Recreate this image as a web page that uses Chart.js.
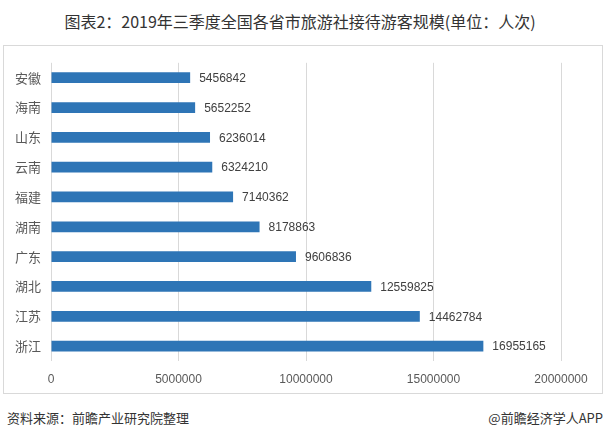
<!DOCTYPE html>
<html>
<head>
<meta charset="utf-8">
<script src="https://cdn.jsdelivr.net/npm/chart.js@4"></script>
<style>
  body { margin: 0; background: #fff; }
  #page { position: relative; width: 608px; height: 439px; font-family: "Noto Sans CJK SC", "Liberation Sans", sans-serif; }
  #title { position: absolute; left: 0; top: 9px; width: 600px; text-align: center; font-size: 16px; color: #333; }
  #frame { position: absolute; left: 3px; top: 45px; width: 598px; height: 347px; border: 1px solid #d9d9d9; }
  #chartBox { position: absolute; left: 3px; top: 45px; width: 600px; height: 349px; }
  .foot { position: absolute; top: 408px; font-size: 13px; color: #333; }
</style>
</head>
<body>
<div id="page">
  <div id="title">图表2：2019年三季度全国各省市旅游社接待游客规模(单位：人次)</div>
  <div id="frame"></div>
  <div id="chartBox"><canvas id="chart"></canvas></div>
  <div class="foot" style="left:7px">资料来源：前瞻产业研究院整理</div>
  <div class="foot" style="right:5px">@前瞻经济学人APP</div>
</div>
<script>
const provinces = ["安徽", "海南", "山东", "云南", "福建", "湖南", "广东", "湖北", "江苏", "浙江"];
const visitors = [5456842, 5652252, 6236014, 6324210, 7140362, 8178863, 9606836, 12559825, 14462784, 16955165];
const xTicks = [0, 5000000, 10000000, 15000000, 20000000];

//数值标签画在柱子右边
const barLabels = {
  id: "barLabels",
  afterDatasetsDraw(chart) {
    const ctx = chart.ctx;
    const meta = chart.getDatasetMeta(0);
    ctx.save();
    ctx.font = "12px 'Liberation Sans', sans-serif";
    ctx.fillStyle = "#404040";
    ctx.textAlign = "left";
    ctx.textBaseline = "middle";
    meta.data.forEach((bar, i) => {
      ctx.fillText(String(visitors[i]), bar.x + 9, bar.y + 1);
    });
    ctx.restore();
  }
};

new Chart(document.getElementById("chart"), {
  type: "bar",
  data: {
    labels: provinces,
    datasets: [{
      data: visitors,
      backgroundColor: "#2e75b6",
      barPercentage: 0.36,
      categoryPercentage: 1
    }]
  },
  options: {
    indexAxis: "y",
    responsive: true,
    maintainAspectRatio: false,
    animation: false,
    layout: { padding: { left: 0, right: 42, top: 16, bottom: 0 } },
    scales: {
      x: {
        min: 0,
        max: 20000000,
        afterBuildTicks: (scale) => { scale.ticks = xTicks.map(v => ({ value: v })); },
        afterFit: (scale) => { scale.height = 33; },
        grid: { color: "#d9d9d9", drawTicks: false },
        border: { display: false },
        ticks: {
          padding: 11,
          color: "#595959",
          font: { size: 12, family: "'Liberation Sans', sans-serif" },
          callback: (v) => String(v)
        }
      },
      y: {
        afterFit: (scale) => { scale.width = 48; },
        grid: { display: false, drawTicks: false },
        border: { display: false },
        ticks: {
          padding: 10,
          color: "#595959",
          font: { size: 13, family: "'Noto Sans CJK SC', sans-serif" }
        }
      }
    },
    plugins: {
      legend: { display: false },
      tooltip: { enabled: false }
    }
  },
  plugins: [barLabels]
});
</script>
</body>
</html>
